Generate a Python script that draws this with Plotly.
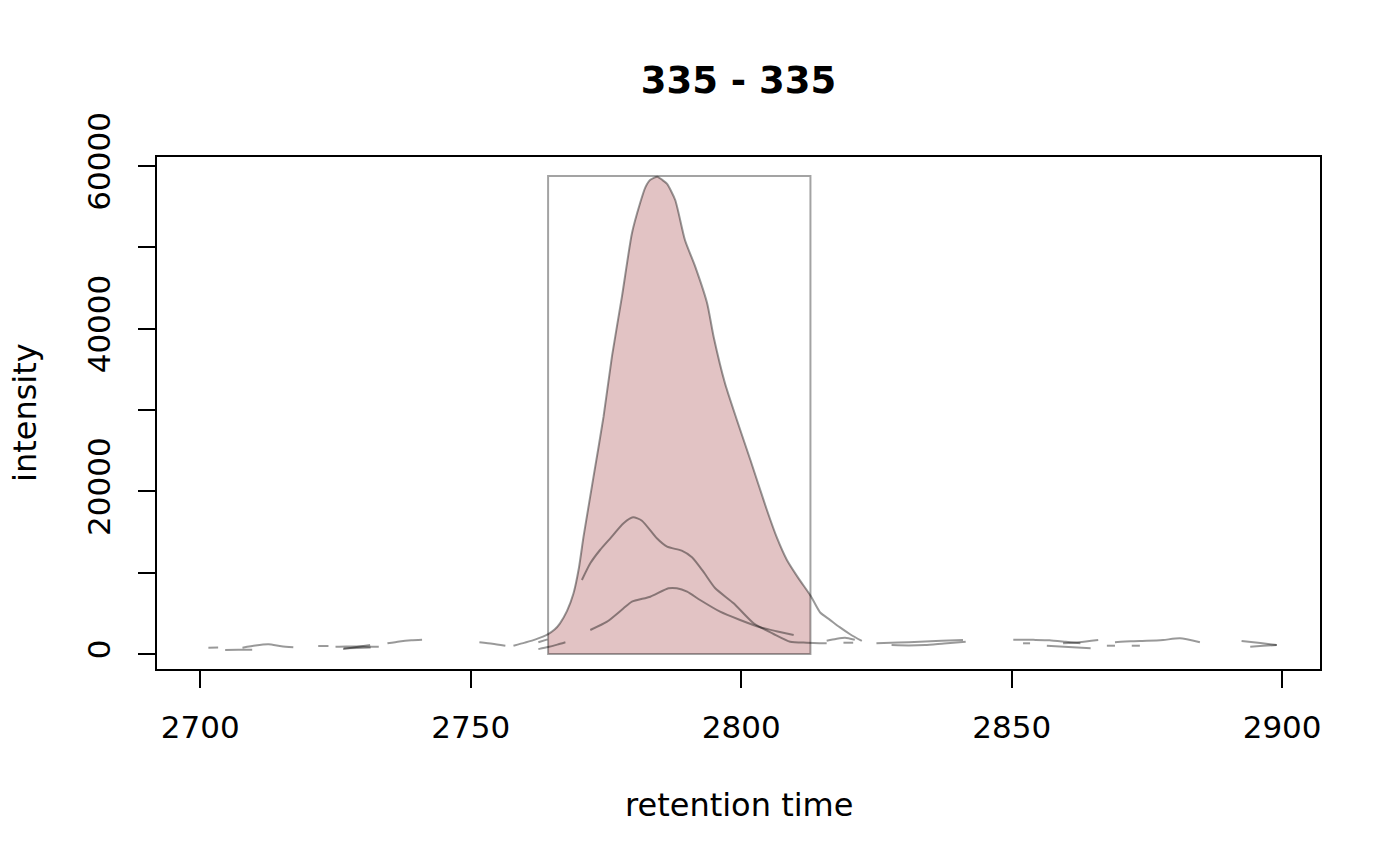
import plotly.graph_objects as go

# ---------------- data ----------------
title_text = "335 - 335"
x_label = "retention time"
y_label = "intensity"

x_ticks = [2700, 2750, 2800, 2850, 2900]
y_ticks = [0, 10000, 20000, 30000, 40000, 50000, 60000]
y_tick_labels = ["0", "", "20000", "", "40000", "", "60000"]

# sample 1 (main peak); None marks missing values
s1_rt = [2707.8, 2710.2, 2712.6, 2715.0, 2717.2, 2719.0,
         2725.0, 2727.0, 2729.0, 2731.0, 2733.0, 2733.8,
         2734.6, 2736.8, 2739.0, 2741.0, 2743.0,
         2751.6, 2754.0, 2756.4, 2757.2,
         2757.9, 2760.0, 2762.0, 2764.3, 2765.5, 2766.5, 2767.8, 2769.0,
         2770.0, 2770.85, 2772.7,
         2774.55, 2776.1, 2777.95, 2779.8, 2781.3, 2782.3, 2783.2, 2784.5,
         2785.4, 2786.3, 2787.8, 2789.6, 2791.5, 2793.7, 2794.9, 2797.0,
         2799.2, 2801.7, 2804.75, 2806.6, 2808.45, 2810.6, 2812.8, 2814.6,
         2816.4, 2818.2, 2820.2, 2822.3, 2823.6,
         2825.0, 2829.0, 2833.0, 2837.0, 2841.0, 2845.0,
         2850.3, 2854.0, 2857.0, 2860.0, 2862.7, 2865.0,
         2869.1, 2872.0, 2875.0, 2878.0, 2881.1, 2884.8, 2888.0,
         2892.5, 2896.0, 2899.0]
s1_int = [780, 1050, 1190, 950, 830, None,
          900, 930, 920, 900, 880, None,
          1310, 1550, 1700, 1760, None,
          1440, 1250, 1020, None,
          1020, 1400, 1800, 2450, 3000, 3775, 5300, 7463,
          10600, 14423, 21800,
          29178, 36555, 43932, 51728, 55416, 57400, 58300, 58687,
          58300, 57800, 55822, 50904, 47621, 43121, 39014, 33284,
          28772, 23853, 17706, 14300, 11558, 9300, 7200, 5100,
          4200, 3300, 2400, 1600, None,
          1316, 1400, 1500, 1620, 1721, None,
          1760, 1740, 1700, 1500, 1316, None,
          1440, 1560, 1620, 1721, 1930, 1440, None,
          1600, 1350, 1107]

# sample 2
s2_rt = [2701.5, 2703.3, 2704.0,
         2721.8, 2723.7, 2725.0,
         2726.4, 2728.9, 2731.4, 2732.0,
         2762.5, 2764.2, 2766.0,
         2770.55, 2772.1, 2773.9, 2775.8, 2778.25, 2780.0, 2781.65, 2784.4,
         2786.3, 2789.0, 2790.9, 2793.0, 2795.2, 2798.6, 2802.3, 2806.0,
         2809.05, 2812.1, 2815.8, 2817.3,
         2818.9, 2820.7, 2822.0,
         2827.8, 2831.0, 2834.0, 2837.5, 2841.5, 2843.0,
         2856.5, 2860.5, 2864.6, 2866.0,
         2867.6, 2869.1, 2870.0,
         2894.1, 2896.5, 2899.0]
s2_int = [780, 790, None,
          980, 980, None,
          600, 850, 1100, None,
          1440, 1800, None,
          9099, 11150, 12787, 14226, 16070, 16808, 16390, 14226,
          13193, 12701, 11890, 10119, 8078, 6234, 3775, 2459,
          1512, 1389, 1316, None,
          1389, 1389, None,
          1100, 1050, 1100, 1300, 1500, None,
          1020, 850, 700, None,
          1020, 1020, None,
          900, 1000, 1107]

# sample 3
s3_rt = [2704.6, 2707.0, 2709.6, 2711.0,
         2726.5, 2729.0, 2731.5, 2732.5,
         2762.5, 2764.3, 2766.0, 2767.5, 2769.0,
         2772.1, 2775.2, 2778.25, 2779.8, 2783.2, 2786.55, 2788.1, 2790.0,
         2792.4, 2796.1, 2799.8, 2803.5, 2806.5, 2809.7, 2812.0,
         2815.8, 2817.5, 2819.2, 2821.0, 2822.0,
         2852.1, 2853.4, 2855.0,
         2859.5, 2862.5, 2866.0, 2867.0,
         2872.2, 2873.7, 2875.0]
s3_int = [500, 510, 520, None,
          700, 750, 800, None,
          600, 850, 1150, 1450, None,
          2951, 3972, 5619, 6431, 7045, 8078, 8078, 7660,
          6640, 5201, 4180, 3283, 2800, 2336, None,
          1635, 1850, 2000, 1750, None,
          1316, 1316, None,
          1316, 1450, 1721, None,
          1020, 1020, None]

# detected peak (rt range and max intensity)
peak_rtmin = 2764.3
peak_rtmax = 2812.8
peak_maxo = 58770

# ---------------- figure ----------------
FONT = "DejaVu Sans"
line_col = "rgba(0,0,0,0.4)"
fill_col = "#E2C3C4"

fig = go.Figure()

# filled peak area (sample 1 values inside the peak rt range)
fx = [r for r, v in zip(s1_rt, s1_int) if v is not None and peak_rtmin <= r <= peak_rtmax]
fy = [v for r, v in zip(s1_rt, s1_int) if v is not None and peak_rtmin <= r <= peak_rtmax]
fig.add_trace(go.Scatter(x=fx, y=fy, mode="lines", fill="tozeroy",
                         fillcolor=fill_col,
                         line=dict(width=0, shape="spline", smoothing=0.6),
                         hoverinfo="skip", showlegend=False))

for rt, it in [(s1_rt, s1_int), (s2_rt, s2_int), (s3_rt, s3_int)]:
    fig.add_trace(go.Scatter(x=rt, y=it, mode="lines",
                             line=dict(color=line_col, width=2, shape="spline",
                                       smoothing=0.6),
                             connectgaps=False, showlegend=False))

fig.add_shape(type="rect", xref="x", yref="y",
              x0=peak_rtmin, x1=peak_rtmax, y0=0, y1=peak_maxo,
              line=dict(color="rgba(0,0,0,0.36)", width=2),
              fillcolor="rgba(0,0,0,0)", layer="above")

axis_common = dict(showline=True, linecolor="black", linewidth=1.5,
                   mirror=True, ticks="outside", ticklen=17, tickwidth=1.5,
                   tickcolor="black", showgrid=False, zeroline=False,
                   tickfont=dict(family=FONT, size=31, color="black"))

fig.update_xaxes(range=[2692.0, 2907.0], tickvals=x_ticks,
                 ticktext=[str(v) for v in x_ticks],
                 ticklabelstandoff=13, **axis_common)
fig.update_yaxes(range=[-1844, 61107], tickvals=y_ticks,
                 ticktext=y_tick_labels, tickangle=-90,
                 ticklabelstandoff=16, **axis_common)

fig.update_layout(
    width=1400, height=866,
    margin=dict(l=157, r=80, t=157, b=197),
    plot_bgcolor="white", paper_bgcolor="white",
    title=dict(text=title_text, x=0.5275, xanchor="center",
               y=1 - 80 / 866, yanchor="middle", yref="container",
               font=dict(family=FONT, size=37, color="black", weight="bold")),
    annotations=[
        dict(text=x_label, xref="paper", yref="paper",
             x=0.5, y=(669 - 805) / 512, xanchor="center", yanchor="middle",
             showarrow=False, font=dict(family=FONT, size=32, color="black")),
        dict(text=y_label, xref="paper", yref="paper",
             x=(25 - 157) / 1163, y=0.5, xanchor="center", yanchor="middle",
             textangle=-90, showarrow=False,
             font=dict(family=FONT, size=32, color="black")),
    ],
)

fig.write_html("out.html")
